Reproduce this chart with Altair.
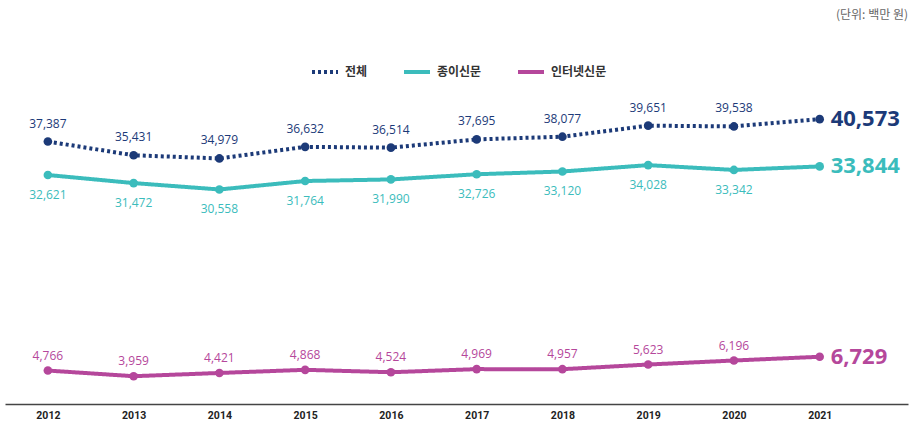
import altair as alt
import pandas as pd

years = [2012, 2013, 2014, 2015, 2016, 2017, 2018, 2019, 2020, 2021]
total = [37387, 35431, 34979, 36632, 36514, 37695, 38077, 39651, 39538, 40573]
paper = [32621, 31472, 30558, 31764, 31990, 32726, 33120, 34028, 33342, 33844]
internet = [4766, 3959, 4421, 4868, 4524, 4969, 4957, 5623, 6196, 6729]
series = ["전체", "종이신문", "인터넷신문"]
colors = ["#1c3a78", "#3bbcbc", "#b5479b"]

rows = []
for s, vals in zip(series, [total, paper, internet]):
    for yr, v in zip(years, vals):
        rows.append({"year": yr, "series": s, "value": v})
df = pd.DataFrame(rows)

x = alt.X("year:Q",
          scale=alt.Scale(domain=[2011.5, 2022.03], nice=False, zero=False),
          axis=alt.Axis(values=years, format="d", title=None, grid=False, ticks=False,
                        labelFont="Roboto", labelFontWeight="bold", labelFontSize=10.5,
                        labelColor="#222", domainColor="#444", domainWidth=1.5,
                        labelPadding=6, labelFlush=False))
y = alt.Y("value:Q", scale=alt.Scale(domain=[0, 50000], nice=False), axis=None)

leg = alt.Legend(title=None, orient="none", legendX=305, legendY=4, direction="horizontal",
                 symbolType="stroke", symbolSize=676, symbolStrokeWidth=4,
                 labelFont="Noto Sans CJK KR", labelFontWeight="bold", labelFontSize=12,
                 labelColor="#333", columnPadding=28, labelOffset=5)
color = alt.Color("series:N", scale=alt.Scale(domain=series, range=colors), legend=leg)
dash = alt.StrokeDash("series:N",
                      scale=alt.Scale(domain=series, range=[[3, 3], [1, 0], [1, 0]]),
                      legend=leg)

base = alt.Chart(df)

lines = base.mark_line(strokeWidth=4).encode(x=x, y=y, color=color, strokeDash=dash)
points = base.mark_circle(size=75, opacity=1).encode(
    x=x, y=y, color=alt.Color("series:N", scale=alt.Scale(domain=series, range=colors), legend=None))

tcolor = alt.Color("series:N", scale=alt.Scale(domain=series, range=colors), legend=None)

def lab(s, dy):
    return base.transform_filter(
        (alt.datum.series == s) & (alt.datum.year < 2021)
    ).mark_text(dy=dy, font="Open Sans", fontSize=12).encode(
        x=x, y=y, text=alt.Text("value:Q", format=","), color=tcolor)

big = base.transform_filter(alt.datum.year == 2021).mark_text(
    dx=11, align="left", baseline="middle", font="Open Sans", fontSize=22, fontWeight="bold"
).encode(x=x, y=y, text=alt.Text("value:Q", format=","), color=tcolor)

chart = alt.layer(
    lines, points, lab("전체", -18), lab("종이신문", 20), lab("인터넷신문", -15), big
).properties(
    width=903, height=351,
    title=alt.Title("(단위: 백만 원)", anchor="end", fontSize=12, color="#666",
                    font="Noto Sans CJK KR", fontWeight="normal", offset=31, frame="group"),
    autosize=alt.AutoSizeParams(type="none"),
    padding={"left": 5, "top": 53, "right": 5, "bottom": 19},
).configure_view(stroke=None).configure_legend(symbolDash=[3, 3])

chart.save("out.html", embed_options={"renderer": "svg", "actions": False})
